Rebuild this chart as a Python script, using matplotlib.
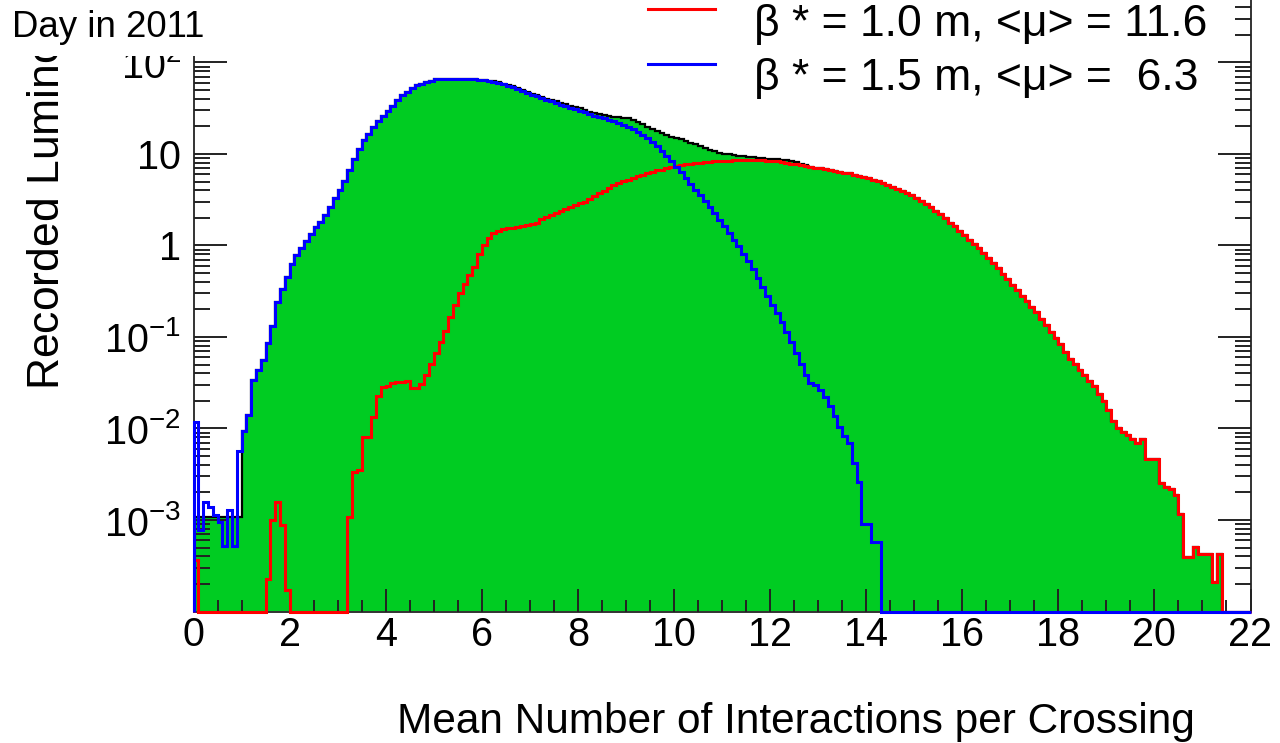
import numpy as np
import matplotlib.pyplot as plt
from matplotlib.lines import Line2D
from matplotlib.patches import Rectangle
from matplotlib.legend_handler import HandlerLine2D
from matplotlib.ticker import FixedLocator, FixedFormatter, MultipleLocator, LogLocator

plt.rcParams["font.family"] = ["Liberation Sans", "DejaVu Sans"]
plt.rcParams["mathtext.default"] = "regular"

# Histogram contents as log10(recorded luminosity) per 0.1 bin.
# None = empty bin. One row per unit of <mu>.
x_range = (0.0, 22.0)

blue_log10 = [
    -1.93, -3.11, -2.80, -2.86, -2.95, -3.02, -3.28, -2.89, -3.28, -2.25,
    -2.03, -1.85, -1.47, -1.36, -1.25, -1.07, -0.88, -0.62, -0.48, -0.34,
    -0.20, -0.10, -0.03, 0.05, 0.13, 0.20, 0.26, 0.33, 0.42, 0.52,
    0.61, 0.71, 0.83, 0.94, 1.06, 1.15, 1.22, 1.29, 1.36, 1.41,
    1.47, 1.53, 1.59, 1.65, 1.68, 1.72, 1.75, 1.77, 1.79, 1.80,
    1.815, 1.82, 1.825, 1.825, 1.825, 1.825, 1.825, 1.82, 1.815, 1.81,
    1.805, 1.80, 1.79, 1.775, 1.76, 1.745, 1.73, 1.71, 1.69, 1.67,
    1.65, 1.63, 1.61, 1.59, 1.575, 1.56, 1.54, 1.52, 1.505, 1.49,
    1.475, 1.46, 1.44, 1.42, 1.405, 1.39, 1.375, 1.36, 1.34, 1.32,
    1.30, 1.27, 1.24, 1.21, 1.17, 1.13, 1.09, 1.03, 0.98, 0.92,
    0.86, 0.80, 0.74, 0.67, 0.61, 0.55, 0.49, 0.42, 0.35, 0.28,
    0.21, 0.14, 0.06, -0.01, -0.09, -0.17, -0.26, -0.35, -0.45, -0.55,
    -0.65, -0.74, -0.84, -0.94, -1.05, -1.17, -1.29, -1.41, -1.50, -1.52,
    -1.58, -1.66, -1.75, -1.86, -1.98, -2.08, -2.16, -2.38, -2.59, -3.04,
    -3.04, -3.24, -3.24, None, None, None, None, None, None, None,
    None, None, None, None, None, None, None, None, None, None,
    None, None, None, None, None, None, None, None, None, None,
    None, None, None, None, None, None, None, None, None, None,
    None, None, None, None, None, None, None, None, None, None,
    None, None, None, None, None, None, None, None, None, None,
    None, None, None, None, None, None, None, None, None, None,
    None, None, None, None, None, None, None, None, None, None,
]

red_log10 = [
    -3.44, None, None, None, None, None, None, None, None, None,
    None, None, None, None, None, -3.64, -3.00, -2.80, -3.06, -3.77,
    None, None, None, None, None, None, None, None, None, None,
    None, None, -2.97, -2.47, -2.45, -2.09, -2.09, -1.87, -1.65, -1.55,
    -1.54, -1.50, -1.49, -1.49, -1.48, -1.56, -1.56, -1.51, -1.42, -1.29,
    -1.18, -1.05, -0.93, -0.78, -0.65, -0.52, -0.42, -0.32, -0.23, -0.09,
    0.00, 0.08, 0.14, 0.16, 0.18, 0.19, 0.19, 0.20, 0.21, 0.22,
    0.23, 0.25, 0.29, 0.31, 0.33, 0.36, 0.38, 0.40, 0.42, 0.44,
    0.46, 0.48, 0.51, 0.54, 0.57, 0.60, 0.63, 0.66, 0.68, 0.70,
    0.72, 0.74, 0.76, 0.775, 0.79, 0.80, 0.82, 0.83, 0.845, 0.855,
    0.87, 0.88, 0.89, 0.895, 0.90, 0.905, 0.91, 0.915, 0.92, 0.92,
    0.925, 0.928, 0.93, 0.932, 0.933, 0.933, 0.933, 0.932, 0.93, 0.928,
    0.925, 0.92, 0.915, 0.905, 0.895, 0.89, 0.88, 0.87, 0.86, 0.85,
    0.845, 0.835, 0.825, 0.815, 0.805, 0.795, 0.79, 0.775, 0.76, 0.75,
    0.735, 0.72, 0.70, 0.68, 0.66, 0.64, 0.62, 0.60, 0.575, 0.55,
    0.52, 0.49, 0.455, 0.42, 0.38, 0.34, 0.30, 0.25, 0.21, 0.16,
    0.11, 0.065, 0.02, -0.03, -0.08, -0.14, -0.19, -0.25, -0.31, -0.37,
    -0.43, -0.49, -0.55, -0.61, -0.67, -0.73, -0.80, -0.87, -0.94, -1.01,
    -1.08, -1.16, -1.24, -1.30, -1.36, -1.42, -1.48, -1.54, -1.62, -1.70,
    -1.80, -1.92, -2.00, -2.04, -2.07, -2.12, -2.16, -2.12, -2.33, -2.33,
    -2.33, -2.60, -2.64, -2.66, -2.73, -2.93, -3.40, -3.40, -3.29, -3.37,
    -3.37, -3.37, -3.68, -3.37, None, None, None, None, None, None,
]

total_log10 = [
    -2.97, -2.97, -2.97, -2.97, -2.97, -2.97, -2.97, -2.97, -2.97, -2.97,
    -2.03, -1.85, -1.47, -1.36, -1.25, -1.07, -0.88, -0.62, -0.48, -0.34,
    -0.20, -0.10, -0.03, 0.05, 0.13, 0.20, 0.26, 0.33, 0.42, 0.52,
    0.61, 0.71, 0.83, 0.94, 1.06, 1.15, 1.22, 1.29, 1.36, 1.41,
    1.47, 1.53, 1.59, 1.65, 1.68, 1.72, 1.75, 1.77, 1.79, 1.80,
    1.815, 1.82, 1.825, 1.825, 1.825, 1.825, 1.825, 1.82, 1.815, 1.81,
    1.805, 1.80, 1.795, 1.785, 1.77, 1.755, 1.74, 1.72, 1.70, 1.68,
    1.66, 1.64, 1.62, 1.605, 1.59, 1.575, 1.56, 1.545, 1.53, 1.515,
    1.50, 1.48, 1.46, 1.445, 1.435, 1.425, 1.415, 1.405, 1.40, 1.395,
    1.39, 1.375, 1.355, 1.33, 1.30, 1.27, 1.25, 1.23, 1.21, 1.19,
    1.175, 1.16, 1.145, 1.125, 1.105, 1.085, 1.065, 1.045, 1.03, 1.015,
    1.005, 0.995, 0.99, 0.98, 0.975, 0.97, 0.965, 0.96, 0.955, 0.95,
    0.945, 0.94, 0.935, 0.93, 0.925, 0.91, 0.895, 0.885, 0.86, 0.85,
    0.845, 0.835, 0.825, 0.815, 0.805, 0.795, 0.79, 0.775, 0.76, 0.75,
    0.735, 0.72, 0.70, 0.68, 0.66, 0.64, 0.62, 0.60, 0.575, 0.55,
    0.52, 0.49, 0.455, 0.42, 0.38, 0.34, 0.30, 0.25, 0.21, 0.16,
    0.11, 0.065, 0.02, -0.03, -0.08, -0.14, -0.19, -0.25, -0.31, -0.37,
    -0.43, -0.49, -0.55, -0.61, -0.67, -0.73, -0.80, -0.87, -0.94, -1.01,
    -1.08, -1.16, -1.24, -1.30, -1.36, -1.42, -1.48, -1.54, -1.62, -1.70,
    -1.80, -1.92, -2.00, -2.04, -2.07, -2.12, -2.16, -2.12, -2.33, -2.33,
    -2.33, -2.60, -2.64, -2.66, -2.73, -2.93, -3.40, -3.40, -3.29, -3.37,
    -3.37, -3.37, -3.68, -3.37, None, None, None, None, None, None,
]

series_labels = ["\u03b2 * = 1.0 m, <\u03bc> = 11.6",
                 "\u03b2 * = 1.5 m, <\u03bc> =  6.3"]

y_ticks = [1e-3, 1e-2, 1e-1, 1, 10, 1e2, 1e3]
y_tick_labels = ["$10^{-3}$", "$10^{-2}$", "$10^{-1}$", "1", "10", "$10^{2}$", "$10^{3}$"]

y_min, y_max = 1e-4, 1e3
green = "#00cc22"


def to_values(logs, empty):
    # empty bins sit at "empty" (the frame bottom for outlines)
    return np.array([empty if v is None else 10.0 ** v for v in logs])


class RaisedLineHandler(HandlerLine2D):
    # ROOT puts the legend line a bit above the text centre
    def create_artists(self, legend, orig_handle, xdescent, ydescent,
                       width, height, fontsize, trans):
        artists = super().create_artists(legend, orig_handle, xdescent, ydescent,
                                         width, height, fontsize, trans)
        for artist in artists:
            artist.set_ydata(np.asarray(artist.get_ydata(), dtype=float) + 0.25 * fontsize)
        return artists


edges = np.linspace(x_range[0], x_range[1], len(blue_log10) + 1)

fig = plt.figure(figsize=(12.8, 7.43), dpi=100)
# frame runs above the top of the picture (the original is cropped there)
ax = fig.add_axes([193.5 / 1280, 1 - 611.5 / 743, 1057 / 1280, 640.5 / 743])
ax.set_yscale("log")
ax.set_xlim(*x_range)
ax.set_ylim(y_min, y_max)

ax.stairs(to_values(total_log10, 1e-7), edges, baseline=1e-7, fill=True,
          color=green, linewidth=0, zorder=1)
ax.stairs(to_values(total_log10, y_min), edges, baseline=y_min,
          color="black", linewidth=1.6, zorder=2)
ax.stairs(to_values(red_log10, y_min), edges, baseline=y_min,
          color="#ff0000", linewidth=2.2, zorder=3, clip_on=False)
ax.stairs(to_values(blue_log10, y_min), edges, baseline=y_min,
          color="#0000ff", linewidth=2.2, zorder=4, clip_on=False)

# axes, ROOT style: ticks inside on all sides
ax.set_axisbelow(False)
for side in ["left", "right", "bottom", "top"]:
    ax.spines[side].set_color("#333333")
    ax.spines[side].set_linewidth(1.4)
    ax.spines[side].set_zorder(2.5)

ax.xaxis.set_major_locator(MultipleLocator(2))
ax.xaxis.set_minor_locator(MultipleLocator(0.5))
ax.yaxis.set_major_locator(FixedLocator(y_ticks))
ax.yaxis.set_major_formatter(FixedFormatter(y_tick_labels))
ax.yaxis.set_minor_locator(LogLocator(base=10, subs=np.arange(2, 10)))
ax.yaxis.set_minor_formatter(FixedFormatter([]))

ax.tick_params(axis="x", which="major", direction="in", length=16.5, width=1.4,
               labelsize=28.5, pad=3, top=True, color="#222222")
ax.tick_params(axis="x", which="minor", direction="in", length=8.6, width=1.4,
               top=True, color="#222222")
ax.tick_params(axis="y", which="major", direction="in", length=24, width=1.4,
               labelsize=28.5, pad=9, right=True, color="#222222")
ax.tick_params(axis="y", which="minor", direction="in", length=11.5, width=1.4,
               right=True, color="#222222")

ax.set_xlabel("Mean Number of Interactions per Crossing", fontsize=30.5, ha="right", va="top")
ax.xaxis.set_label_coords((1195 - 193.5) / 1057, (611.5 - 702) / 640.5)
ax.set_ylabel("Recorded Luminosity [pb$^{-1}$/0.1]", fontsize=32, ha="left", va="center")
ax.yaxis.set_label_coords((46 - 193.5) / 1057, (611.5 - 390) / 640.5)

handles = [Line2D([], [], color="#ff0000", linewidth=2.2),
           Line2D([], [], color="#0000ff", linewidth=2.2)]
ax.legend(handles, series_labels, loc="upper left",
          bbox_to_anchor=(648 / 1280, 1 - 4 / 743), bbox_transform=fig.transFigure,
          frameon=False, fontsize=32, handlelength=1.5, handletextpad=0.88,
          labelspacing=0.30, borderpad=0, borderaxespad=0,
          handler_map={Line2D: RaisedLineHandler()})

# white box over the top-left corner with the date note
fig.add_artist(Rectangle((0, 1 - 56 / 743), 600 / 1280, 56 / 743,
                         transform=fig.transFigure, facecolor="white",
                         edgecolor="none", zorder=10))
fig.text(12 / 1280, 1 - 37 / 743, "Day in 2011", fontsize=26.4,
         ha="left", va="baseline", zorder=11)

fig.savefig("out.png", dpi=100)
